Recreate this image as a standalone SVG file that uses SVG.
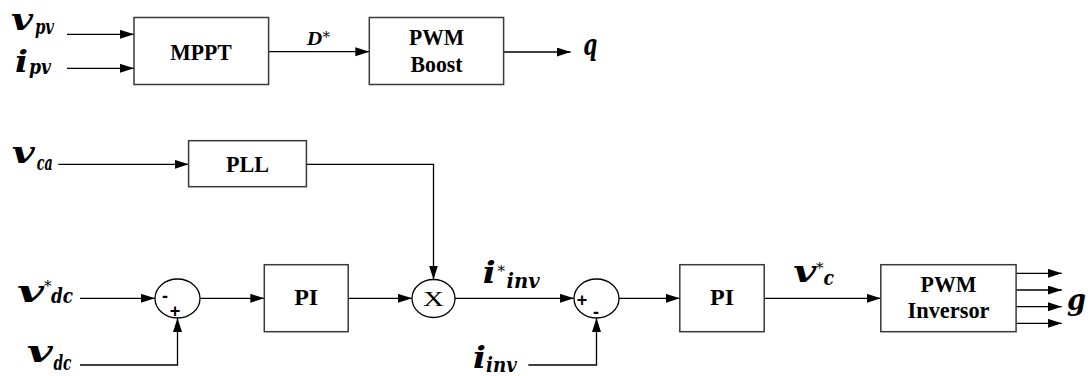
<svg xmlns="http://www.w3.org/2000/svg" width="1091" height="376" viewBox="0 0 1091 376">
<style>
.box{fill:#fff;stroke:#3a3a3a;stroke-width:1.5}
.sum{fill:#fff;stroke:#000;stroke-width:1.3}
.ln{fill:none;stroke:#000;stroke-width:1.3}
.bt{font-family:"Liberation Serif","Times New Roman",serif;font-weight:bold;font-size:24px;text-anchor:middle;fill:#000}
.m{font-family:"DejaVu Serif",serif;font-weight:bold;font-style:italic;font-size:30px;fill:#000}
.s{font-family:"DejaVu Serif",serif;font-weight:bold;font-style:italic;font-size:21px;fill:#000}
.st{font-family:"DejaVu Serif",serif;font-size:15px;fill:#000}
.sg{font-family:"Liberation Sans",Arial,sans-serif;font-weight:bold;font-size:18px;text-anchor:middle;fill:#000}
</style>
<defs>
<marker id="ah" markerUnits="userSpaceOnUse" markerWidth="15" markerHeight="10" refX="14" refY="4.5" orient="auto">
<path d="M0,0 L14,4.5 L0,9 Z" fill="#000"/>
</marker>
</defs>
<g id="connectors" class="ln" marker-end="url(#ah)">
<path d="M67,34.3 H134"/>
<path d="M67,68.3 H134"/>
<path d="M268.6,51.7 H369.3"/>
<path d="M503.6,52 H570.7"/>
<path d="M58.3,164.3 H188.6"/>
<path d="M306.4,164.3 H433.5 V279.5"/>
<path d="M80,298.3 H155"/>
<path d="M80,365 H177.5 V318"/>
<path d="M200,298.3 H264.3"/>
<path d="M348.2,298.3 H412"/>
<path d="M455,298.3 H574"/>
<path d="M528.3,365 H596.5 V318"/>
<path d="M619,298.3 H679.8"/>
<path d="M764.2,298.3 H880.8"/>
<path d="M1016,273.3 H1061.8"/>
<path d="M1016,290 H1061.8"/>
<path d="M1016,306.7 H1061.8"/>
<path d="M1016,323.3 H1061.8"/>
</g>
<g id="mppt"><rect class="box" x="134" y="17.5" width="134.6" height="67"/><text class="bt" x="201" y="60" textLength="61.5" lengthAdjust="spacingAndGlyphs">MPPT</text></g>
<g id="pwm-boost"><rect class="box" x="369.3" y="17.5" width="134.3" height="67"/><text class="bt" x="436.5" y="45" textLength="55" lengthAdjust="spacingAndGlyphs">PWM</text><text class="bt" x="436.5" y="71.7" textLength="52" lengthAdjust="spacingAndGlyphs">Boost</text></g>
<g id="pll"><rect class="box" x="188.6" y="140.7" width="117.8" height="46"/><text class="bt" x="247.5" y="171.7" textLength="43" lengthAdjust="spacingAndGlyphs">PLL</text></g>
<g id="sum1"><ellipse class="sum" cx="177.5" cy="298.5" rx="22.5" ry="19.5"/><text class="sg" x="165" y="302">-</text><text class="sg" x="175" y="316.6">+</text></g>
<g id="pi1"><rect class="box" x="264.3" y="264.7" width="83.9" height="67"/><text class="bt" x="306.2" y="305" textLength="24" lengthAdjust="spacingAndGlyphs">PI</text></g>
<g id="mult"><ellipse class="sum" cx="433.5" cy="298.5" rx="21.5" ry="19"/><text x="433.5" y="306" font-family="Liberation Serif,serif" font-size="21" text-anchor="middle" textLength="21" lengthAdjust="spacingAndGlyphs">X</text></g>
<g id="sum2"><ellipse class="sum" cx="596.5" cy="298.5" rx="22.5" ry="19.5"/><text class="sg" x="582" y="306.3">+</text><text class="sg" x="596" y="318">-</text></g>
<g id="pi2"><rect class="box" x="679.8" y="264.7" width="84.4" height="67"/><text class="bt" x="722" y="305" textLength="24" lengthAdjust="spacingAndGlyphs">PI</text></g>
<g id="pwm-inversor"><rect class="box" x="880.8" y="264.7" width="135.3" height="67"/><text class="bt" x="948.5" y="291.7" textLength="56" lengthAdjust="spacingAndGlyphs">PWM</text><text class="bt" x="948.5" y="318.3" textLength="82" lengthAdjust="spacingAndGlyphs">Inversor</text></g>
<g id="labels">
<text class="m" x="11" y="30" textLength="22" lengthAdjust="spacingAndGlyphs">v</text><text class="s" x="35" y="33.5" textLength="19" lengthAdjust="spacingAndGlyphs">pv</text>
<text class="m" x="15" y="71.7" textLength="13" lengthAdjust="spacingAndGlyphs">i</text><text class="s" x="29" y="74" textLength="22" lengthAdjust="spacingAndGlyphs">pv</text>
<text x="306.7" y="45" font-family="Liberation Serif,serif" font-weight="bold" font-style="italic" font-size="18" textLength="15.5" lengthAdjust="spacingAndGlyphs">D</text><text class="st" x="322.5" y="42" font-size="12">*</text>
<text class="m" x="583.3" y="55" textLength="14" lengthAdjust="spacingAndGlyphs">q</text>
<text class="m" x="11.7" y="163.3" textLength="23" lengthAdjust="spacingAndGlyphs">v</text><text class="s" x="36.7" y="170" textLength="16" lengthAdjust="spacingAndGlyphs">ca</text>
<text class="m" x="17" y="301.7" textLength="27" lengthAdjust="spacingAndGlyphs">v</text><text class="st" x="44" y="291">*</text><text class="s" x="51" y="303.3" textLength="22" lengthAdjust="spacingAndGlyphs">dc</text>
<text class="m" x="26.7" y="361.7" textLength="26" lengthAdjust="spacingAndGlyphs">v</text><text class="s" x="53.5" y="369.5" textLength="18" lengthAdjust="spacingAndGlyphs">dc</text>
<text class="m" x="482.7" y="283.3" textLength="13" lengthAdjust="spacingAndGlyphs">i</text><text class="st" x="497.5" y="276">*</text><text class="s" x="506.5" y="288.3" textLength="33" lengthAdjust="spacingAndGlyphs">inv</text>
<text class="m" x="473" y="367.5" textLength="13" lengthAdjust="spacingAndGlyphs">i</text><text class="s" x="486" y="371.5" textLength="30.7" lengthAdjust="spacingAndGlyphs">inv</text>
<text class="m" x="793.3" y="281.7" textLength="23" lengthAdjust="spacingAndGlyphs">v</text><text class="st" x="816" y="273">*</text><text class="s" x="823.5" y="285" textLength="10.5" lengthAdjust="spacingAndGlyphs">c</text>
<text class="m" x="1067" y="310" textLength="19" lengthAdjust="spacingAndGlyphs">g</text>
</g>
</svg>
